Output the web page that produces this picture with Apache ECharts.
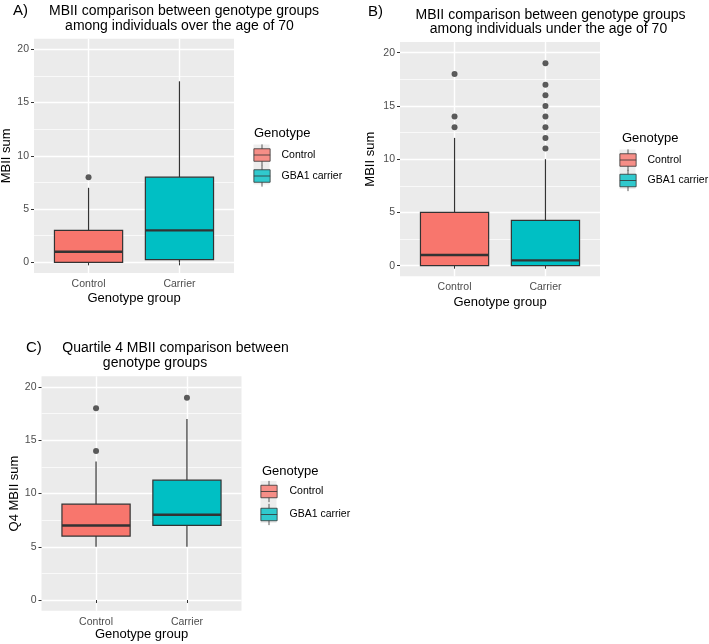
<!DOCTYPE html>
<html>
<head>
<meta charset="utf-8">
<script src="https://cdn.jsdelivr.net/npm/echarts@6/dist/echarts.min.js"></script>
<style>
    html, body {margin: 0; padding: 0; background: #fff;}
    #chart {width: 709px; height: 644px;}
</style>
</head>
<body>
<div id="chart"></div>
<script>
// categories on the x axis and the legend names
const groups = ['Control', 'Carrier'];
const legend_names = ['Control', 'GBA1 carrier'];

// boxes: [lower whisker, Q1, median, Q3, upper whisker] for Control, Carrier
const box_over70 = [[0, 0, 1, 3, 7], [0, 0.25, 3, 8, 17]];
const out_over70 = [[8], []];

const box_under70 = [[0, 0, 1, 5, 12], [0, 0, 0.5, 4.25, 10]];
const out_under70 = [[13, 14, 18], [11, 12, 13, 14, 15, 16, 17, 19]];

const box_q4 = [[5, 6, 7, 9, 13], [5, 7, 8, 11.25, 17]];
const out_q4 = [[14, 18], [19]];

// y axis
const y_ticks = [0, 5, 10, 15, 20];
const y_minor = [2.5, 7.5, 12.5, 17.5];

const fill_colors = ['#F8766D', '#00BFC4'];
const FONT = '"Liberation Sans", Arial, sans-serif';

const panels = [
    {
        tag: 'A)', title: ['MBII comparison between genotype groups', 'among individuals over the age of 70'],
        tag_pos: [13, 11], title_pos: [[184, 11.5], [179.5, 26]],
        grid: {left: 34, top: 38.7, width: 200, height: 234.3},
        y_name: 'MBII sum', y_gap: 17.5, x_gap: 19,
        box: box_over70, out: out_over70,
        key: {left: 255, center: 154.5, step: 20, text: 281}, legend_title: [254, 133]
    },
    {
        tag: 'B)', title: ['MBII comparison between genotype groups', 'among individuals under the age of 70'],
        tag_pos: [368, 12], title_pos: [[550.5, 15.5], [548.5, 29]],
        grid: {left: 400, top: 42.05, width: 200, height: 234.3},
        y_name: 'MBII sum', y_gap: 23.5, x_gap: 19.5,
        box: box_under70, out: out_under70,
        key: {left: 621, center: 159.5, step: 19.5, text: 647}, legend_title: [622, 138]
    },
    {
        tag: 'C)', title: ['Quartile 4 MBII comparison between', 'genotype groups'],
        tag_pos: [26, 348], title_pos: [[175.5, 348], [155, 363]],
        grid: {left: 41.5, top: 376.35, width: 200, height: 234.3},
        y_name: 'Q4 MBII sum', y_gap: 18.5, x_gap: 17,
        box: box_q4, out: out_q4,
        key: {left: 262, center: 491, step: 22, text: 289}, legend_title: [262, 471]
    }
];

// legend icon is drawn at 0.8 of the item box, so the box is enlarged
const KEY_W = 13, KEY_H = 17;
const ITEM_W = KEY_W / 0.8, ITEM_H = KEY_H / 0.8;
const KEY_ICON = 'path://M0,3.5L13,3.5L13,13.5L0,13.5Z M0,8.5L13,8.5 M6.5,0L6.5,3.5 M6.5,13.5L6.5,17';

function gen_x_axis(idx, gap) {
    return {
        type: 'value', gridIndex: idx, min: 0.4, max: 2.6,
        name: 'Genotype group', nameLocation: 'middle', nameGap: gap,
        nameTextStyle: {fontSize: 13, color: '#000', fontFamily: FONT},
        axisLine: {show: false},
        axisTick: {show: true, length: 3, customValues: [1, 2], lineStyle: {color: '#333', width: 1}},
        axisLabel: {
            customValues: [1, 2], margin: 5.5, fontSize: 10.5, color: '#4D4D4D', fontFamily: FONT,
            formatter: v => groups[Math.round(v) - 1]
        },
        splitLine: {show: true, lineStyle: {color: '#fff', width: 1.4}}
    };
}

function gen_y_axes(idx, name, gap) {
    return [{
        type: 'value', gridIndex: idx, min: -1, max: 21,
        name: name, nameLocation: 'middle', nameGap: gap,
        nameTextStyle: {fontSize: 13, color: '#000', fontFamily: FONT},
        axisLine: {show: false},
        axisTick: {show: true, length: 3, customValues: y_ticks, lineStyle: {color: '#333', width: 1}},
        axisLabel: {customValues: y_ticks, margin: 5, fontSize: 10.5, color: '#4D4D4D', fontFamily: FONT},
        splitLine: {show: true, lineStyle: {color: '#fff', width: 1.4}}
    }, {
        type: 'value', gridIndex: idx, min: -1, max: 21, position: 'left',
        axisLine: {show: false},
        axisTick: {show: false, customValues: y_minor},
        axisLabel: {show: false},
        splitLine: {show: true, lineStyle: {color: '#fff', width: 0.7}}
    }];
}

function render_box(params, api) {
    let x = api.value(0);
    let lo = api.coord([x, api.value(1)]);
    let q1 = api.coord([x, api.value(2)]);
    let md = api.coord([x, api.value(3)]);
    let q3 = api.coord([x, api.value(4)]);
    let hi = api.coord([x, api.value(5)]);
    let left = api.coord([x - 0.375, 0])[0];
    let right = api.coord([x + 0.375, 0])[0];
    let line = {stroke: '#333', lineWidth: 1.2};
    return {
        type: 'group',
        children: [
            {type: 'line', shape: {x1: hi[0], y1: hi[1], x2: q3[0], y2: q3[1]}, style: line},
            {type: 'line', shape: {x1: q1[0], y1: q1[1], x2: lo[0], y2: lo[1]}, style: line},
            {
                type: 'rect',
                shape: {x: left, y: q3[1], width: right - left, height: q1[1] - q3[1]},
                style: {fill: fill_colors[params.dataIndex], stroke: '#333', lineWidth: 1.2}
            },
            {type: 'line', shape: {x1: left, y1: md[1], x2: right, y2: md[1]}, style: {stroke: '#333', lineWidth: 2.4}}
        ]
    };
}

let grids = [], x_axes = [], y_axes = [], series = [], legends = [], graphics = [];

panels.forEach((p, i) => {
    grids.push(Object.assign({show: true, backgroundColor: '#EBEBEB', borderWidth: 0, outerBoundsMode: 'none'}, p.grid));
    x_axes.push(gen_x_axis(i, p.x_gap));
    y_axes.push(...gen_y_axes(i, p.y_name, p.y_gap));

    series.push({
        type: 'custom', name: 'box' + i,
        xAxisIndex: i, yAxisIndex: i * 2,
        renderItem: render_box,
        encode: {x: 0, y: [1, 2, 3, 4, 5]},
        data: p.box.map((b, g) => [g + 1].concat(b)),
        z: 2
    });
    p.out.forEach((vals, g) => {
        series.push({
            type: 'scatter', name: legend_names[g],
            xAxisIndex: i, yAxisIndex: i * 2,
            symbolSize: 6,
            itemStyle: {color: '#333'},
            data: vals.map(v => [g + 1, v]),
            z: 3
        });
    });

    let k = p.key;
    let item_left = k.left - (ITEM_W - KEY_W) / 2;
    legends.push({
        orient: 'vertical',
        left: item_left,
        top: k.center - ITEM_H / 2,
        padding: 0, itemGap: k.step - ITEM_H, itemWidth: ITEM_W, itemHeight: ITEM_H,
        selectedMode: false,
        textStyle: {
            fontSize: 10.5, color: '#000', fontFamily: FONT,
            padding: [0, 0, 0, k.text - item_left - ITEM_W - 5]
        },
        data: legend_names.map((n, g) => ({
            name: n, icon: KEY_ICON,
            itemStyle: {color: fill_colors[g], borderColor: '#333', borderWidth: 1}
        }))
    });

    // grey key background
    graphics.push({
        type: 'rect', z: -1,
        shape: {x: k.left - 1.5, y: k.center - 10, width: KEY_W + 3, height: k.step + 20},
        style: {fill: '#EDEDED'}
    });
    graphics.push({
        type: 'text', x: p.legend_title[0], y: p.legend_title[1],
        style: {text: 'Genotype', font: '13px ' + FONT, fill: '#000', align: 'left', verticalAlign: 'middle'}
    });
    graphics.push({
        type: 'text', x: p.tag_pos[0], y: p.tag_pos[1],
        style: {text: p.tag, font: '15px ' + FONT, fill: '#000', align: 'left', verticalAlign: 'middle'}
    });
    p.title.forEach((t, j) => {
        graphics.push({
            type: 'text', x: p.title_pos[j][0], y: p.title_pos[j][1],
            style: {text: t, font: '14px ' + FONT, fill: '#000', align: 'center', verticalAlign: 'middle'}
        });
    });
});

let chart = echarts.init(document.getElementById('chart'), null, {renderer: 'canvas'});
chart.setOption({
    animation: false,
    backgroundColor: '#fff',
    textStyle: {fontFamily: FONT},
    grid: grids,
    xAxis: x_axes,
    yAxis: y_axes,
    legend: legends,
    graphic: graphics,
    series: series
});
</script>
</body>
</html>
